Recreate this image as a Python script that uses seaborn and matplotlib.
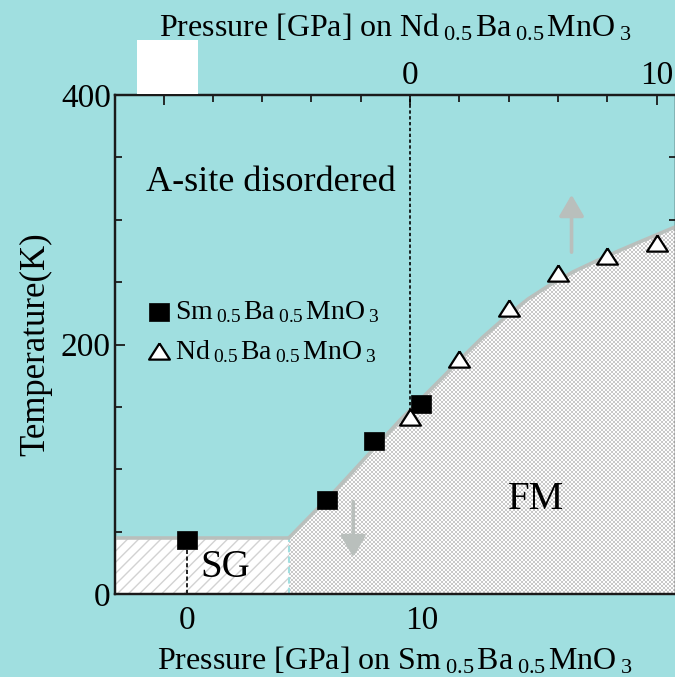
import numpy as np
import pandas as pd
import seaborn as sns
import matplotlib.pyplot as plt
from matplotlib.patches import Rectangle, Polygon
from matplotlib.ticker import MultipleLocator

# ---------------- data ----------------
sm_pressure = [0, 6, 8, 10]
sm_temp = [43, 75, 123, 152]
nd_pressure = [0, 2, 4, 6, 8, 10]
nd_temp = [142, 188, 229, 257, 271, 281]
sg_pressure = [-3.05, 4.36]
sg_temp = [45, 45]
fm_pressure = [4.36, 6.39, 9.1, 10.93, 11.65, 12.6, 13.56, 14.55, 15.5, 16.5, 17.4, 18.4, 19.4, 20.85]
fm_temp = [45, 84, 139.5, 174, 188, 205.5, 221.5, 236.5, 248, 258.5, 266.5, 275, 283, 294.5]
bottom_ticks = [0, 10, 20]
bottom_labels = ['0', '10', '']
top_ticks = [-10, 0, 10]
top_labels = ['', '0', '10']
y_ticks = [0, 200, 400]
y_labels = ['0', '200', '400']

BG = '#a0dfe0'
GRAY = '#b9bfbc'

sns.set_theme(style='ticks')
plt.rcParams['font.family'] = ['Liberation Serif', 'DejaVu Serif']
plt.rcParams['mathtext.fontset'] = 'custom'
plt.rcParams['mathtext.rm'] = 'Liberation Serif'
plt.rcParams['mathtext.it'] = 'Liberation Serif:italic'
plt.rcParams['mathtext.bf'] = 'Liberation Serif:bold'
plt.rcParams['mathtext.default'] = 'regular'
plt.rcParams['hatch.linewidth'] = 1.0
for k in ['text.color', 'axes.labelcolor', 'xtick.color', 'ytick.color',
          'xtick.labelcolor', 'ytick.labelcolor']:
    plt.rcParams[k] = 'black'

fig = plt.figure(figsize=(6.75, 6.77), dpi=100)
fig.patch.set_facecolor(BG)
ax = fig.add_axes([115 / 675, 83 / 677, 561 / 675, 499 / 677])
ax.set_facecolor(BG)
ax.set_xlim(-3.05, 20.85)
ax.set_ylim(0, 400)
ax2 = ax.twiny()
ax2.set_xlim(-11.97, 10.79)

# SG region (hatched)
ax.fill_between(sg_pressure, sg_temp, 0, facecolor='white', edgecolor='#d2d2d2',
                hatch='///', linewidth=0, zorder=1)

# FM region (stippled texture clipped to the region under the boundary)
H, W = 499, 561
ii, jj = np.indices((H, W))
dots = ((ii // 2 + jj // 2) % 2 == 0)
tex = np.ones((H, W, 3))
tex[dots] = np.array([200, 200, 200]) / 255.0
tex[~dots] = np.array([253, 253, 253]) / 255.0
fm_poly = Polygon(list(zip(fm_pressure, fm_temp)) + [(fm_pressure[-1], 0), (fm_pressure[0], 0)],
                  closed=True, facecolor='none', edgecolor='none', transform=ax.transData)
ax.add_patch(fm_poly)
im = ax.imshow(tex, extent=(-3.05, 20.85, 0, 400), origin='upper', aspect='auto',
               interpolation='nearest', zorder=1)
im.set_clip_path(fm_poly)
ax.set_xlim(-3.05, 20.85)
ax.set_ylim(0, 400)

ax.plot([sg_pressure[1], sg_pressure[1]], [0, sg_temp[1]], color=BG, lw=1.5,
        ls=(0, (3, 2)), zorder=2)

# boundary
sns.lineplot(x=sg_pressure, y=sg_temp, color=GRAY, lw=2.6, estimator=None,
             sort=False, ax=ax, zorder=3)
sns.lineplot(x=fm_pressure, y=fm_temp, color=GRAY, lw=2.6, estimator=None,
             sort=False, ax=ax, zorder=3)

# guide lines
ax.plot([0, 0], [0, sm_temp[0]], color='black', lw=1.2, ls=(0, (2.5, 1.5)), zorder=4)
ax2.plot([0, 0], [nd_temp[0], 400], color='black', lw=1.2, ls=(0, (2.0, 1.5)), zorder=1)

# arrows
arrow_kw = dict(arrowstyle='-|>,head_width=0.38,head_length=0.65', mutation_scale=20,
                color=GRAY, lw=2.6, shrinkA=0, shrinkB=0)
ax.annotate('', xy=(16.4, 320), xytext=(16.4, 274), arrowprops=arrow_kw, zorder=4)
ax.annotate('', xy=(7.1, 29.5), xytext=(7.1, 74), arrowprops=arrow_kw, zorder=4)

# markers
sq = [(-1, -0.85), (1, -0.85), (1, 0.85), (-1, 0.85), (-1, -0.85)]
tri = [(0, 0.78), (-1, -0.78), (1, -0.78), (0, 0.78)]
sns.scatterplot(x=sm_pressure, y=sm_temp, marker=sq, s=225, color='black',
                edgecolor='black', linewidth=0.5, ax=ax, zorder=5,
                label=r'Sm$_{\;0.5\,}$Ba$_{\;0.5\,}$MnO$_{\;3}$', legend=False)
sns.scatterplot(x=nd_pressure, y=nd_temp, marker=tri, s=225, color='white',
                edgecolor='black', linewidth=1.6, ax=ax2, zorder=5,
                label=r'Nd$_{\;0.5\,}$Ba$_{\;0.5\,}$MnO$_{\;3}$', legend=False)

h1, l1 = ax.get_legend_handles_labels()
h2, l2 = ax2.get_legend_handles_labels()
leg = ax2.legend(h1 + h2, l1 + l2, loc='center left', bbox_to_anchor=(0.053, 0.525),
                 frameon=False, fontsize=20, handlelength=1.0, handletextpad=0.1,
                 borderpad=0, borderaxespad=0, labelspacing=0.45)

# texts
ax.text(3.6, 330, 'A-site disordered', fontsize=26, ha='center', va='center')
ax.text(1.63, 21, 'SG', fontsize=28, ha='center', va='center', zorder=6)
ax.text(14.9, 76, 'FM', fontsize=28, ha='center', va='center', zorder=6)

# axes styling
ax.set_xticks(bottom_ticks)
ax.set_xticklabels(bottom_labels)
ax.xaxis.set_minor_locator(MultipleLocator(2))
ax.set_yticks(y_ticks)
ax.set_yticklabels(y_labels)
ax.yaxis.set_minor_locator(MultipleLocator(50))
ax.tick_params(axis='both', which='both', direction='in', right=True, top=False,
               labelsize=24, color='#1a1a1a', width=1.3)
ax.tick_params(axis='both', which='major', length=7)
ax.tick_params(axis='both', which='minor', length=5)
ax.tick_params(axis='x', pad=8)
ax.tick_params(axis='y', pad=3)

ax2.set_xticks(top_ticks)
ax2.set_xticklabels(top_labels)
ax2.xaxis.set_minor_locator(MultipleLocator(2))
ax2.tick_params(axis='x', which='both', direction='in', labelsize=24,
                color='#1a1a1a', width=1.3, pad=3)
ax2.tick_params(axis='x', which='major', length=7)
ax2.tick_params(axis='x', which='minor', length=5)

for a in (ax, ax2):
    for s in a.spines.values():
        s.set_linewidth(1.6)
        s.set_color('#1a1a1a')

ax.set_xlabel(r'Pressure [GPa] on Sm$_{\;0.5\,}$Ba$_{\;0.5\,}$MnO$_{\;3}$', fontsize=23, labelpad=7)
ax2.set_xlabel(r'Pressure [GPa] on Nd$_{\;0.5\,}$Ba$_{\;0.5\,}$MnO$_{\;3}$', fontsize=23, labelpad=17)
ax.set_ylabel('Temperature(K)', fontsize=25, labelpad=6)

fig.add_artist(Rectangle((137 / 675, (677 - 94) / 677), 61 / 675, 54 / 677,
                         transform=fig.transFigure, facecolor='white',
                         edgecolor='none', zorder=10))

fig.savefig('out.png', dpi=100, facecolor=BG)
